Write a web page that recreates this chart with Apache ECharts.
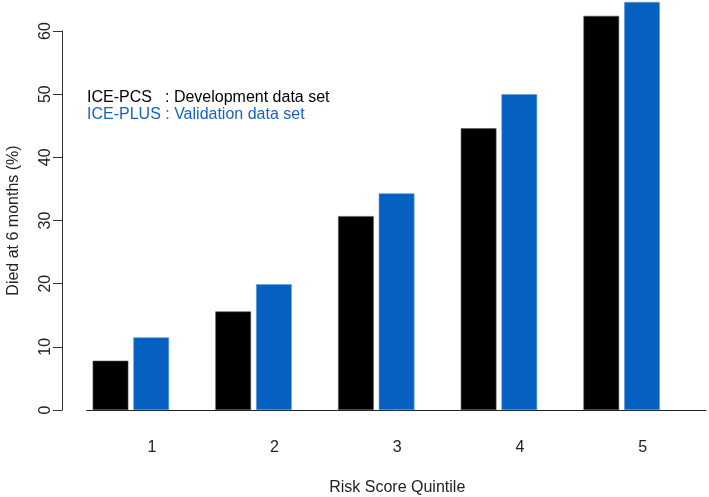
<!DOCTYPE html>
<html>
<head>
<meta charset="utf-8">
<script src="https://cdn.jsdelivr.net/npm/echarts@6/dist/echarts.min.js"></script>
<style>
html,body{margin:0;padding:0;background:#fff;}
#main{width:709px;height:497px;}
</style>
</head>
<body>
<div id="main"></div>
<script>
var categories = ['1', '2', '3', '4', '5'];
var developmentValues = [7.8, 15.6, 30.7, 44.6, 62.4];
var validationValues = [11.5, 19.9, 34.3, 50.0, 64.6];
var yTicks = [0, 10, 20, 30, 40, 50, 60];
var legendLines = ['ICE-PCS', ': Development data set', 'ICE-PLUS : Validation data set'];

var FONT = '"Liberation Sans", Arial, sans-serif';
var BLUE = '#0560c0';
var chart = echarts.init(document.getElementById('main'), null, {renderer: 'canvas'});
chart.setOption({
  animation: false,
  backgroundColor: '#ffffff',
  grid: [
    {left: 69.5, right: 26, top: 31, bottom: 87, containLabel: false, outerBoundsMode: 'none'},
    {left: 86.7, right: 3, top: 31, bottom: 87, containLabel: false, outerBoundsMode: 'none'}
  ],
  xAxis: [
    {
      type: 'category',
      gridIndex: 0,
      data: categories,
      axisLine: {show: false},
      axisTick: {show: false},
      axisLabel: {
        fontFamily: FONT, fontSize: 16, color: '#222',
        margin: 30, padding: [0, 0, 0, 42]
      },
      name: 'Risk Score Quintile',
      nameLocation: 'middle',
      nameGap: 70,
      nameTextStyle: {fontFamily: FONT, fontSize: 16, color: '#222', padding: [0, 0, 0, 42]}
    },
    {
      type: 'value',
      gridIndex: 1,
      min: 0, max: 1,
      axisLine: {show: true, onZero: false, lineStyle: {color: '#222', width: 1}},
      axisTick: {show: false},
      axisLabel: {show: false},
      splitLine: {show: false}
    }
  ],
  yAxis: [
    {
      type: 'value',
      gridIndex: 0,
      min: 0, max: 60, interval: 10,
      offset: 7.5,
      axisLine: {show: true, lineStyle: {color: '#333', width: 1}},
      axisTick: {show: true, length: 9, lineStyle: {color: '#333'}},
      axisLabel: {
        fontFamily: FONT, fontSize: 16, color: '#222', rotate: 90, margin: 8,
        formatter: function (v) { return yTicks.indexOf(v) >= 0 ? String(v) : ''; }
      },
      splitLine: {show: false},
      name: 'Died at 6 months (%)',
      nameLocation: 'middle',
      nameGap: 40,
      nameTextStyle: {fontFamily: FONT, fontSize: 16, color: '#222'}
    },
    {
      type: 'value',
      gridIndex: 1,
      min: 0, max: 1,
      show: false
    }
  ],
  series: [
    {
      type: 'bar',
      name: 'ICE-PCS',
      xAxisIndex: 0, yAxisIndex: 0,
      data: developmentValues,
      barWidth: 35.7,
      barGap: '14%',
      clip: false,
      itemStyle: {color: '#000000', borderColor: '#555', borderWidth: 0.6}
    },
    {
      type: 'bar',
      name: 'ICE-PLUS',
      xAxisIndex: 0, yAxisIndex: 0,
      data: validationValues,
      barWidth: 35.7,
      barGap: '14%',
      clip: false,
      itemStyle: {color: BLUE, borderColor: '#5b9be0', borderWidth: 0.6}
    }
  ],
  graphic: [
    {type: 'text', left: 87, top: 90, style: {text: legendLines[0], font: '16px ' + FONT, fill: '#000'}},
    {type: 'text', left: 165, top: 90, style: {text: legendLines[1], font: '16px ' + FONT, fill: '#000'}},
    {type: 'text', left: 87, top: 107, style: {text: legendLines[2], font: '16px ' + FONT, fill: '#1565c0'}}
  ]
});
</script>
</body>
</html>
